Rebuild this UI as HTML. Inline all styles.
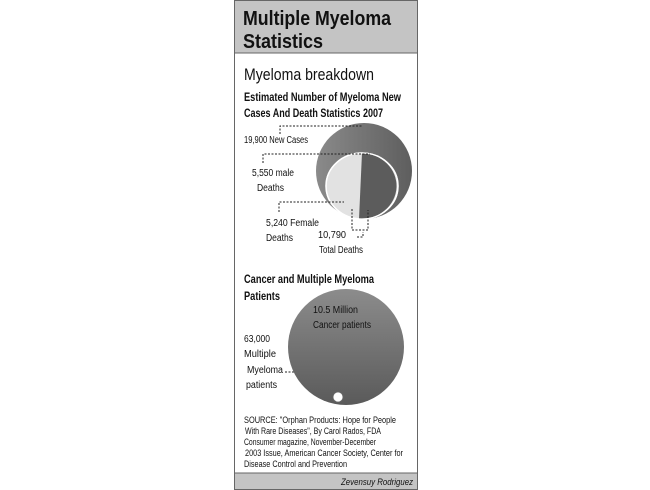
<!DOCTYPE html>
<html><head><meta charset="utf-8"><style>
html,body{margin:0;padding:0;background:#fff;}
svg{display:block;}
text{font-family:"Liberation Sans",sans-serif;fill:#111;}
</style></head><body>
<svg width="650" height="490" viewBox="0 0 650 490">
<defs>
<linearGradient id="g1" x1="0" x2="1" y1="0" y2="0"><stop offset="0" stop-color="#8a8a8a"/><stop offset="1" stop-color="#5e5e5e"/></linearGradient>
<linearGradient id="g2" x1="0" x2="0" y1="0" y2="1"><stop offset="0" stop-color="#8c8c8c"/><stop offset="1" stop-color="#5a5a5a"/></linearGradient>
</defs>
<rect x="234.5" y="0.5" width="183" height="489" fill="#fff" stroke="#666"/>
<rect x="235" y="1" width="182" height="52" fill="#c4c4c4"/>
<line x1="235" y1="53" x2="417" y2="53" stroke="#666"/>
<text x="243" y="25" font-size="20" font-weight="bold" textLength="148" lengthAdjust="spacingAndGlyphs">Multiple Myeloma</text>
<text x="243" y="48" font-size="20" font-weight="bold" textLength="80" lengthAdjust="spacingAndGlyphs">Statistics</text>
<text x="244" y="80" font-size="17" textLength="130" lengthAdjust="spacingAndGlyphs">Myeloma breakdown</text>
<text x="244" y="101" font-size="12" font-weight="bold" textLength="157" lengthAdjust="spacingAndGlyphs">Estimated Number of Myeloma New</text>
<text x="244" y="117" font-size="12" font-weight="bold" textLength="139" lengthAdjust="spacingAndGlyphs">Cases And Death Statistics 2007</text>

<circle cx="364" cy="171" r="48" fill="url(#g1)"/>
<ellipse cx="362" cy="186" rx="36" ry="33" fill="#e2e2e2" stroke="#fff" stroke-width="1.5"/>
<path d="M362,153 A36,33 0 0 1 359,219 Z" fill="#5c5c5c"/>
<ellipse cx="362" cy="186" rx="36" ry="33" fill="none" stroke="#fff" stroke-width="1.2"/>

<g stroke="#222" stroke-dasharray="2,1.5" fill="none" stroke-width="1">
<path d="M280,134 V126 H363"/>
<path d="M263,163 V154 H370"/>
<path d="M279,212 V202 H344"/>
<path d="M352,209 V230 H368 V210"/>
<path d="M357,237 H363 V232"/>
<path d="M285,372 H337 V393"/>
</g>

<g font-size="10">
<text x="244" y="143" textLength="64" lengthAdjust="spacingAndGlyphs">19,900 New Cases</text>
<text x="252" y="176" textLength="42" lengthAdjust="spacingAndGlyphs">5,550 male</text>
<text x="257" y="191" textLength="27" lengthAdjust="spacingAndGlyphs">Deaths</text>
<text x="266" y="226" textLength="53" lengthAdjust="spacingAndGlyphs">5,240 Female</text>
<text x="266" y="241" textLength="27" lengthAdjust="spacingAndGlyphs">Deaths</text>
<text x="318" y="238" textLength="28" lengthAdjust="spacingAndGlyphs">10,790</text>
<text x="319" y="253" textLength="44" lengthAdjust="spacingAndGlyphs">Total Deaths</text>
</g>

<text x="244" y="283" font-size="12" font-weight="bold" textLength="130" lengthAdjust="spacingAndGlyphs">Cancer and Multiple Myeloma</text>
<text x="244" y="300" font-size="12" font-weight="bold" textLength="36" lengthAdjust="spacingAndGlyphs">Patients</text>

<circle cx="346" cy="347" r="58" fill="url(#g2)"/>
<circle cx="338" cy="397" r="5" fill="#fff" stroke="#666" stroke-width="0.8"/>
<g font-size="10">
<text x="313" y="313" textLength="45" lengthAdjust="spacingAndGlyphs">10.5 Million</text>
<text x="313" y="328" textLength="58" lengthAdjust="spacingAndGlyphs">Cancer patients</text>
<text x="244" y="342" textLength="26" lengthAdjust="spacingAndGlyphs">63,000</text>
<text x="244" y="357" textLength="32" lengthAdjust="spacingAndGlyphs">Multiple</text>
<text x="247" y="373" textLength="36" lengthAdjust="spacingAndGlyphs">Myeloma</text>
<text x="246" y="388" textLength="31" lengthAdjust="spacingAndGlyphs">patients</text>
</g>

<g font-size="9">
<text x="244" y="423" textLength="152" lengthAdjust="spacingAndGlyphs">SOURCE: "Orphan Products: Hope for People</text>
<text x="245" y="434" textLength="136" lengthAdjust="spacingAndGlyphs">With Rare Diseases", By Carol Rados, FDA</text>
<text x="244" y="445" textLength="132" lengthAdjust="spacingAndGlyphs">Consumer magazine, November-December</text>
<text x="245" y="456" textLength="158" lengthAdjust="spacingAndGlyphs">2003 Issue, American Cancer Society, Center for</text>
<text x="244" y="467" textLength="103" lengthAdjust="spacingAndGlyphs">Disease Control and Prevention</text>
</g>
<rect x="235" y="473" width="182" height="16" fill="#c4c4c4"/>
<line x1="235" y1="473" x2="417" y2="473" stroke="#666"/>
<text x="413" y="485" font-size="9" textLength="72" lengthAdjust="spacingAndGlyphs" text-anchor="end" font-style="italic">Zevensuy Rodriguez</text>
</svg>
</body></html>
